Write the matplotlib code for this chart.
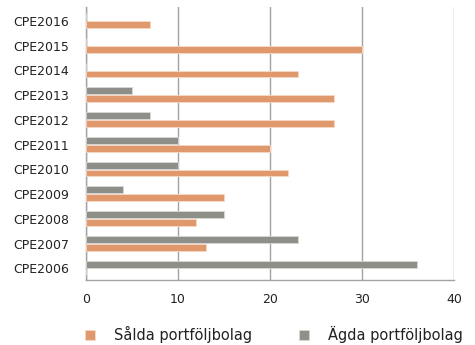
import matplotlib.pyplot as plt
import numpy as np

categories = ['CPE2006', 'CPE2007', 'CPE2008', 'CPE2009', 'CPE2010', 'CPE2011',
              'CPE2012', 'CPE2013', 'CPE2014', 'CPE2015', 'CPE2016']
salda = [0, 13, 12, 15, 22, 20, 27, 27, 23, 30, 7]
agda = [36, 23, 15, 4, 10, 10, 7, 5, 0, 0, 0]
xticks = [0, 10, 20, 30, 40]

orange = '#E0996C'
gray = '#8F8F8A'

fig = plt.figure(figsize=(4.75, 3.45), dpi=100)
ax = fig.add_axes([0.181, 0.188, 0.775, 0.792])

y = np.arange(len(categories))
h = 0.28
ax.barh(y - 0.15, salda, height=h, color=orange, edgecolor='#F6D9C6', linewidth=0.6,
        label='Sålda portföljbolag', zorder=3)
ax.barh(y + 0.17, agda, height=h, color=gray, edgecolor='#D8D8D5', linewidth=0.6,
        label='Ägda portföljbolag', zorder=3)

ax.set_xlim(0, 40)
ax.set_ylim(-0.48, 10.56)
ax.set_xticks(xticks)
ax.set_yticks(y)
ax.set_yticklabels(categories)
ax.tick_params(length=0, labelsize=9, colors='#222222')
ax.tick_params(axis='x', pad=9)
ax.tick_params(axis='y', pad=12)

ax.grid(axis='x', color='#A3A3A3', linewidth=1.0, zorder=0)
for s in ['top', 'right']:
    ax.spines[s].set_visible(False)
for s in ['left', 'bottom']:
    ax.spines[s].set_color('#A3A3A3')
    ax.spines[s].set_linewidth(1.0)

ax.legend(loc='upper center', bbox_to_anchor=(0.51, -0.12), ncol=2, frameon=False,
          fontsize=10.5, handlelength=0.7, handleheight=0.7, columnspacing=3.2,
          handletextpad=1.3, labelcolor='#222222')

fig.savefig('out.png', dpi=100)
